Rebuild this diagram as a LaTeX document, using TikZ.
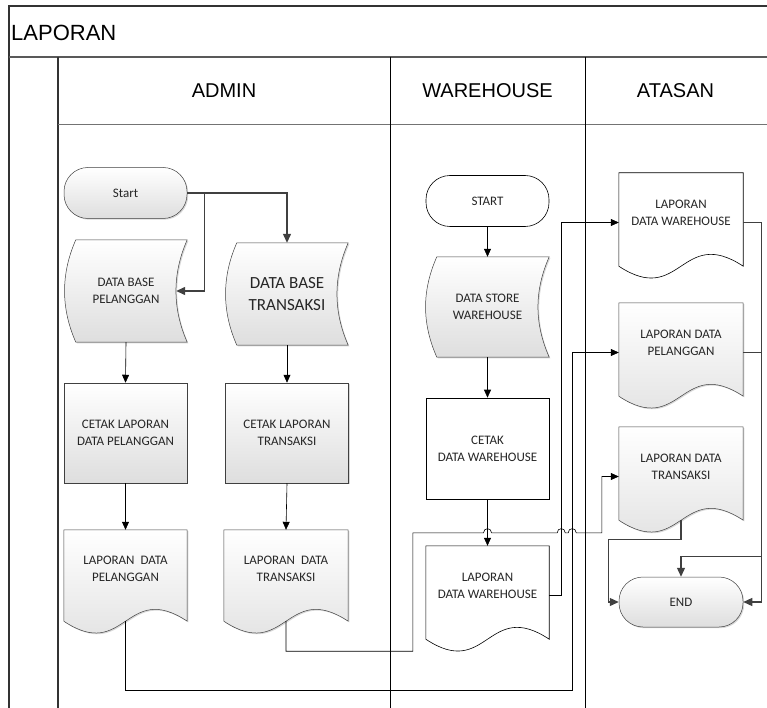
\documentclass[tikz,border=0pt]{standalone}
\usepackage{fontspec}
\setmainfont{Carlito}
\newfontfamily\headfont{Liberation Sans}
\usetikzlibrary{arrows.meta,calc,shadows}
\pgfdeclarelayer{background}
\pgfsetlayers{background,main}

\tikzset{
  lane/.style={draw=black, line width=0.8pt},
  lanethick/.style={draw=black!80, line width=1.4pt},
  lanesep/.style={draw=black!65, line width=2pt},
  laneheader/.style={draw=black!55, line width=0.9pt},
  title/.style={font=\headfont\fontsize{22}{26}\selectfont, inner sep=0pt},
  head/.style={font=\headfont\fontsize{20}{24}\selectfont, inner sep=0pt},
  boxtext/.style={font=\fontsize{13}{17}\selectfont, align=center, inner sep=0pt, text=black!85},
  shaded/.style={draw=black!75, line width=0.5pt, top color=white, bottom color=black!13,
    drop shadow={shadow xshift=1.2pt, shadow yshift=-1.2pt, fill=black!35, opacity=0.45}},
  plain/.style={draw=black, line width=0.6pt, fill=white},
  terminal/.style={boxtext, rectangle, rounded corners=24pt, minimum width=123pt, minimum height=51pt},
  process/.style={boxtext, rectangle, minimum width=123pt, minimum height=100pt},
  slot/.style={boxtext, minimum width=123pt, minimum height=#1},
  flow/.style={-{Triangle[length=8pt,width=7pt]}, draw=black, line width=0.6pt},
  flowdark/.style={-{Triangle[length=9pt,width=8pt]}, draw=black!75, line width=1.3pt},
  link/.style={draw=black, line width=0.6pt},
}

% stored data: both sides bowed to the left
\newcommand{\storedshape}[2]{%
  \draw[#2] ($(#1.north west)+(11,0)$) -- (#1.north east)
    .. controls ($(#1.north east)+(-15,34)$) and ($(#1.south east)+(-15,-34)$) .. (#1.south east)
    -- ($(#1.south west)+(11,0)$)
    .. controls ($(#1.south west)+(-4,-34)$) and ($(#1.north west)+(-4,34)$) .. ($(#1.north west)+(11,0)$)
    -- cycle;}
% document: wavy bottom below the text node
\newcommand{\docshape}[2]{%
  \draw[#2] (#1.north west) -- (#1.north east) -- ($(#1.south east)+(0,14)$)
    .. controls ($(#1.south)+(0,-27)$) and ($(#1.south)+(0,55)$) .. ($(#1.south west)+(0,14)$)
    -- cycle;}

\begin{document}
\begin{tikzpicture}[x=1pt,y=-1pt]
\useasboundingbox (0,0) rectangle (767,708);

% swimlanes
\draw[lanethick] (9,709) -- (9,6) -- (768,6);
\draw[lanesep] (9,57) -- (768,57);
\draw[lanethick] (58,57) -- (58,709);
\draw[laneheader] (58,124) -- (768,124);
\draw[lane] (390,57) -- (390,709);
\draw[lane] (585,57) -- (585,709);

\node[title, anchor=west] (ttl) at (11,33) {LAPORAN};
\node[head] (hadmin) at (224,91) {ADMIN};
\node[head] (hware) at (487.5,91) {WAREHOUSE};
\node[head] (hatas) at (675.5,91) {ATASAN};

% admin
\node[terminal, shaded] (start) at (125.5,193) {Start};
\node[slot=102pt, minimum width=122pt] (dbpel) at (126,291) {DATA BASE\\PELANGGAN};
\node[slot=102pt, minimum width=122pt, font=\fontsize{17}{22}\selectfont] (dbtrans) at (287,294) {DATA BASE\\TRANSAKSI};
\node[process, shaded] (cetakpel) at (125.5,433) {CETAK LAPORAN\\DATA PELANGGAN};
\node[process, shaded] (cetaktrans) at (287,433) {CETAK LAPORAN\\TRANSAKSI};
\node[slot=77pt] (lappel) at (125.5,568.5) {LAPORAN\ \ DATA\\PELANGGAN};
\node[slot=77pt, minimum width=124pt] (laptrans) at (286,568.5) {LAPORAN\ \ DATA\\TRANSAKSI};

% warehouse
\node[terminal, plain] (startw) at (487.5,201) {START};
\node[slot=100pt] (dsw) at (487.5,307) {DATA STORE\\WAREHOUSE};
\node[process, plain, minimum height=101pt] (cetakw) at (487.5,448.5) {CETAK\\DATA WAREHOUSE};
\node[slot=79pt] (lapw) at (487.5,585.5) {LAPORAN\\DATA WAREHOUSE};

% atasan
\node[slot=79pt, minimum width=124pt] (lapwa) at (681,212.5) {LAPORAN\\DATA WAREHOUSE};
\node[slot=79pt, minimum width=124pt] (lappela) at (681,342.5) {LAPORAN DATA\\PELANGGAN};
\node[slot=79pt, minimum width=124pt] (laptransa) at (681,466.5) {LAPORAN DATA\\TRANSAKSI};
\node[terminal, shaded, minimum width=124pt, minimum height=50pt] (endn) at (681,602) {END};

\begin{pgfonlayer}{background}
  \storedshape{dbpel}{shaded}
  \storedshape{dbtrans}{shaded}
  \storedshape{dsw}{shaded}
  \docshape{lappel}{shaded}
  \docshape{laptrans}{shaded}
  \docshape{lapw}{plain}
  \docshape{lapwa}{plain}
  \docshape{lappela}{shaded}
  \docshape{laptransa}{shaded}
\end{pgfonlayer}

% bus lines and hops
\coordinate (busa) at ($(lapw.east)+(12,10)$);
\coordinate (busb) at ($(lapw.east)+(23,10)$);
\coordinate (hy) at ($(lapw.north)+(0,-13)$);
\coordinate (h1) at (cetakw.south |- hy);
\coordinate (h2) at (busa |- hy);
\coordinate (h3) at (busb |- hy);

\draw[flowdark] (start.east) -- ++(17,0) |- ($(dbpel.east)+(-11,0)$);
\draw[flowdark] (start.east) -| (dbtrans.north);
\draw[flow] (dbpel.south) -- (cetakpel.north);
\draw[flow] (dbtrans.south) -- (cetaktrans.north);
\draw[flow] (cetakpel.south) -- (lappel.north);
\draw[flow] (cetaktrans.south) -- (laptrans.north);

\draw[flow] (startw.south) -- (dsw.north);
\draw[flow] (dsw.south) -- (cetakw.north);
\draw[flow] (cetakw.south) -- (lapw.north);

\draw[flow] ($(lapw.east)+(0,10)$) -- (busa) |- ($(lapwa.west)+(0,10)$);
\draw[flow] ($(lappel.south)+(0,14)$) -- ++(0,69) -| (busb) |- ($(lappela.west)+(0,10)$);
\draw[flow] ($(laptrans.south)+(0,14)$) -- ++(0,30) -| ($(lapw.west |- hy)+(-13,0)$)
  -- ($(h1)+(-4,0)$) .. controls ++(0,-5.5) and ($(h1)+(4,-5.5)$) .. ($(h1)+(4,0)$)
  -- ($(h2)+(-4,0)$) .. controls ++(0,-5.5) and ($(h2)+(4,-5.5)$) .. ($(h2)+(4,0)$)
  -- ($(h3)+(-4,0)$) .. controls ++(0,-5.5) and ($(h3)+(4,-5.5)$) .. ($(h3)+(4,0)$)
  -- ($(laptransa.west |- hy)+(-17,0)$) |- ($(laptransa.west)+(0,10)$);

\draw[flowdark] ($(lapwa.east)+(0,10)$) -- ++(18,0) |- (endn.east);
\draw[flowdark] ($(lappela.east)+(0,10)$) -- ++(18,0) |- ($(endn.north)+(0,-20)$) -- (endn.north);
\draw[flowdark] ($(laptransa.south)+(0,14)$) -- ++(0,19) -| ($(endn.west)+(-10,0)$) -- (endn.west);
\end{tikzpicture}
\end{document}
